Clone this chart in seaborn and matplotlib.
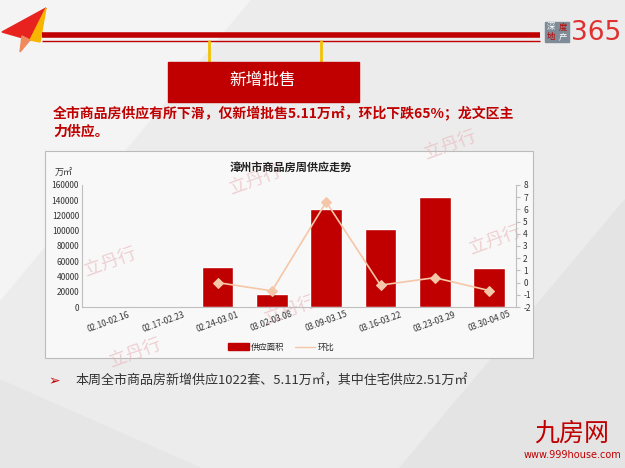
import numpy as np
import pandas as pd
import matplotlib.pyplot as plt
import matplotlib.patches as mpatches
from matplotlib.lines import Line2D
import seaborn as sns

sns.set_style("white")
plt.rcParams['font.family'] = ['Noto Sans CJK SC', 'DejaVu Sans']

# 数据
weeks = ["02.10-02.16", "02.17-02.23", "02.24-03.01", "03.02-03.08",
         "03.09-03.15", "03.16-03.22", "03.23-03.29", "03.30-04.05"]
supply = [0, 0, 53000, 17000, 129000, 102500, 143500, 51100]
ratio = [np.nan, np.nan, 0.0, -0.68, 6.6, -0.21, 0.4, -0.65]
left_ticks = [0, 20000, 40000, 60000, 80000, 100000, 120000, 140000, 160000]
right_ticks = [-2, -1, 0, 1, 2, 3, 4, 5, 6, 7, 8]

RED = "#C00000"
PEACH = "#F5C6A8"

df = pd.DataFrame({"week": weeks, "supply": supply, "ratio": ratio})
df["pos"] = np.arange(len(weeks))

fig = plt.figure(figsize=(6.25, 4.68), dpi=100)
fig.patch.set_facecolor("#ECECEC")

# 背景装饰
bg = fig.add_axes([0, 0, 1, 1])
bg.set_xlim(0, 625)
bg.set_ylim(468, 0)
bg.axis("off")
bg.add_patch(mpatches.Polygon([[0, 0], [250, 0], [0, 300]], color="#F4F4F4", zorder=0))
bg.add_patch(mpatches.Polygon([[400, 468], [625, 200], [625, 468]], color="#E4E4E4", zorder=0))
bg.add_patch(mpatches.Polygon([[0, 468], [0, 380], [200, 468]], color="#E6E6E6", zorder=0))
# 纸飞机
bg.add_patch(mpatches.Polygon([[2, 32], [46, 8], [30, 40]], color="#E8231F", zorder=2))
bg.add_patch(mpatches.Polygon([[46, 8], [40, 42], [30, 40]], color="#F7B500", zorder=2))
bg.add_patch(mpatches.Polygon([[22, 36], [30, 40], [20, 52]], color="#F08A5D", zorder=2))
# 红线
bg.plot([42, 540], [35, 35], color=RED, lw=4, solid_capstyle="butt")
bg.plot([42, 540], [40.5, 40.5], color=RED, lw=1, solid_capstyle="butt")
# logo
bg.add_patch(mpatches.Rectangle((545, 22), 12, 10, color="#7F8C97"))
bg.add_patch(mpatches.Rectangle((557, 22), 12, 10, color="#7F8C97"))
bg.add_patch(mpatches.Rectangle((545, 32), 12, 10, color="#7F8C97"))
bg.add_patch(mpatches.Rectangle((557, 32), 12, 10, color="#7F8C97"))
bg.text(551, 27, "深", color="white", fontsize=6, ha="center", va="center")
bg.text(563, 27, "度", color=RED, fontsize=6, ha="center", va="center")
bg.text(551, 37, "地", color=RED, fontsize=6, ha="center", va="center")
bg.text(563, 37, "产", color="white", fontsize=6, ha="center", va="center")
bg.text(571, 33, "365", color="#E03030", fontsize=19, ha="left", va="center",
        family="DejaVu Sans")
# 挂牌
for hx in [209, 321]:
    bg.plot([hx, hx], [41, 68], color="#F2C100", lw=2)
    bg.plot(hx, 69, "o", color="#F2C100", ms=3)
bg.add_patch(mpatches.Rectangle((168, 62), 191, 40, color="#C00000", zorder=3))
bg.text(263, 81, "新增批售", color="white", fontsize=12, ha="center", va="center",
        zorder=4)
# 标题文字
bg.text(53, 113, "全市商品房供应有所下滑，仅新增批售5.11万㎡，环比下跌65%；龙文区主",
        color=RED, fontsize=10, fontweight="bold", ha="left", va="center")
bg.text(53, 132, "力供应。", color=RED, fontsize=10, fontweight="bold",
        ha="left", va="center")
# 图表底板
bg.add_patch(mpatches.Rectangle((45, 151), 488, 207, facecolor="#F8F8F8",
                                edgecolor="#BBBBBB", lw=0.8, zorder=1))
# 水印
for wx, wy in [(110, 262), (255, 180), (450, 145), (495, 240), (290, 310), (135, 353)]:
    bg.text(wx, wy, "立丹行", color="#E8B4B8", fontsize=13, rotation=20, alpha=0.6,
            ha="center", va="center", zorder=1)
# 底部文字
bg.text(48, 381, "➢", color=RED, fontsize=10, ha="left", va="center",
        family=["DejaVu Sans"])
bg.text(75, 381, "本周全市商品房新增供应1022套、5.11万㎡，其中住宅供应2.51万㎡",
        color="#333333", fontsize=9.4, ha="left", va="center")
# 九房网
bg.text(572, 434, "九房网", color=RED, fontsize=18, ha="center", va="center")
bg.text(572, 455, "www.999house.com", color=RED, fontsize=7, ha="center",
        va="center", family="DejaVu Sans")

# 主图
ax = fig.add_axes([0.131, 0.344, 0.695, 0.261])
ax.set_facecolor("none")
sns.barplot(data=df, x="pos", y="supply", color=RED, width=0.585,
            saturation=1, ax=ax)
ax.set_ylim(0, 160000)
ax.set_yticks(left_ticks)
ax.set_yticklabels([str(t) for t in left_ticks], fontsize=6)
ax.set_xlim(-0.5, len(weeks) - 0.5)
ax.set_xticks(range(len(weeks)))
ax.set_xticklabels(weeks, rotation=20, fontsize=6, ha="center")
ax.set_xlabel("")
ax.set_ylabel("")
for s in ["top", "right"]:
    ax.spines[s].set_visible(False)
ax.spines["left"].set_color("#BFBFBF")
ax.spines["bottom"].set_color("#BFBFBF")
ax.tick_params(axis="both", length=0, pad=2, colors="#333333")

ax2 = ax.twinx()
sns.lineplot(data=df, x="pos", y="ratio", color=PEACH, marker="D", markersize=5,
             markeredgecolor=PEACH, lw=1.2, ax=ax2)
ax2.set_ylim(-2, 8)
ax2.set_yticks(right_ticks)
ax2.set_yticklabels([str(t) for t in right_ticks], fontsize=6)
ax2.set_ylabel("")
for s in ["top", "left", "bottom"]:
    ax2.spines[s].set_visible(False)
ax2.spines["right"].set_color("#BFBFBF")
ax2.tick_params(axis="y", length=3, color="#BFBFBF", pad=2, labelcolor="#333333")

fig.text(0.465, 0.643, "漳州市商品房周供应走势", fontsize=8, fontweight="bold",
         ha="center", va="center", color="#222222")
fig.text(0.088, 0.630, "万㎡", fontsize=6.5, ha="left", va="center", color="#333333")

handles = [mpatches.Patch(color=RED, label="供应面积"),
           Line2D([0], [0], color=PEACH, lw=1, label="环比")]
fig.legend(handles=handles, loc="center", bbox_to_anchor=(0.45, 0.258), ncol=2,
           frameon=False, fontsize=6, handlelength=2.5, handleheight=0.9,
           columnspacing=1.2, handletextpad=0.3)

fig.savefig("out.png", dpi=100, facecolor=fig.get_facecolor())
